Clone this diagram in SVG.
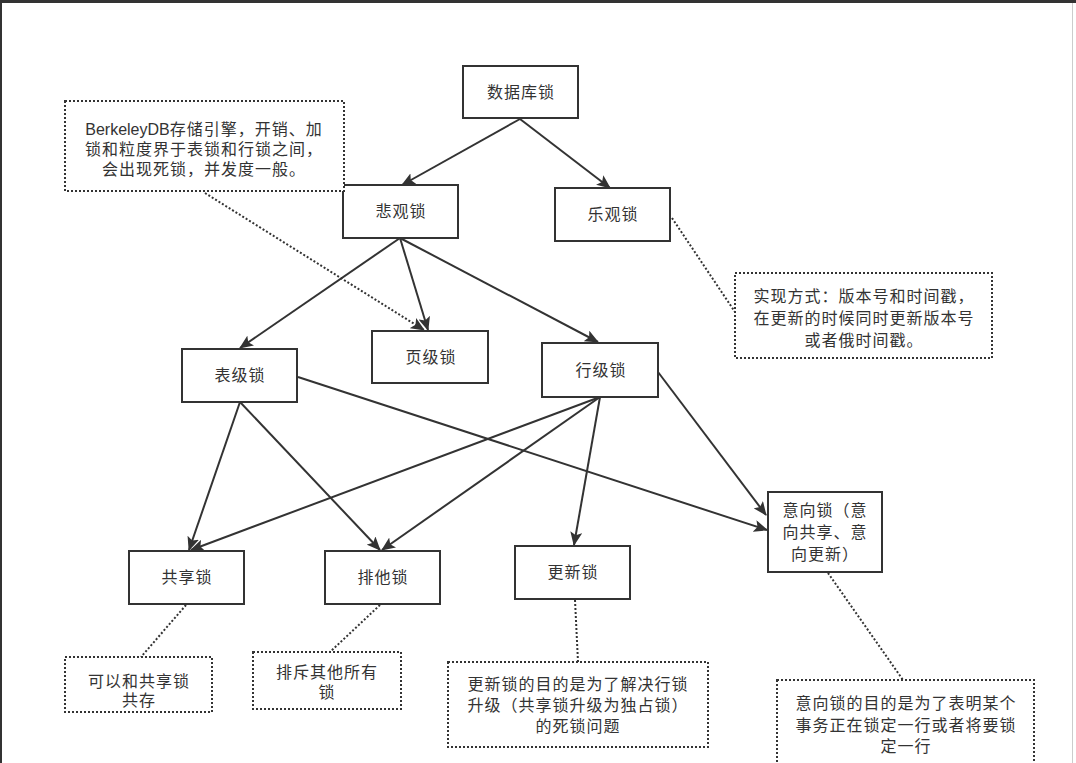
<svg xmlns="http://www.w3.org/2000/svg" width="1076" height="763" viewBox="0 0 1076 763">
<style>
.box{fill:#fff;stroke:#333;stroke-width:2}
.note{fill:#fff;stroke:#333;stroke-width:2;stroke-dasharray:2 2}
.t{font-family:"Liberation Sans","Noto Sans CJK SC",sans-serif;font-size:16px;fill:#333;text-anchor:middle;dominant-baseline:central;letter-spacing:1px}
.c{fill:none;stroke:#333;stroke-width:2}
.d{fill:none;stroke:#333;stroke-width:2;stroke-dasharray:2 2}
</style>
<defs>
<marker id="ah" viewBox="0 0 14 12" refX="13" refY="6" markerWidth="14" markerHeight="12" orient="auto" markerUnits="userSpaceOnUse">
<path d="M0,0 L14,6 L0,12 L3,6 z" fill="#333"/>
</marker>
</defs>
<rect x="0" y="0" width="1076" height="763" fill="#fff"/>
<rect x="0" y="0" width="1076" height="3" fill="#333"/>
<rect x="0" y="0" width="2" height="763" fill="#333"/>
<rect x="1072" y="3" width="1" height="760" fill="#ccc"/>

<g id="connectors">
<line class="c" x1="520" y1="119" x2="402" y2="185" marker-end="url(#ah)"/>
<line class="c" x1="520" y1="119" x2="610" y2="188" marker-end="url(#ah)"/>
<line class="c" x1="400" y1="238" x2="240" y2="348" marker-end="url(#ah)"/>
<line class="c" x1="400" y1="238" x2="428" y2="330" marker-end="url(#ah)"/>
<line class="c" x1="400" y1="238" x2="598" y2="342" marker-end="url(#ah)"/>
<line class="c" x1="240" y1="402" x2="189" y2="550" marker-end="url(#ah)"/>
<line class="c" x1="240" y1="402" x2="380" y2="550" marker-end="url(#ah)"/>
<line class="c" x1="298" y1="377" x2="767" y2="530" marker-end="url(#ah)"/>
<line class="c" x1="600" y1="397" x2="191" y2="550" marker-end="url(#ah)"/>
<line class="c" x1="600" y1="397" x2="382" y2="550" marker-end="url(#ah)"/>
<line class="c" x1="600" y1="397" x2="574" y2="545" marker-end="url(#ah)"/>
<line class="c" x1="658" y1="372" x2="766" y2="515" marker-end="url(#ah)"/>
<line class="d" x1="205" y1="193" x2="424" y2="330" marker-end="url(#ah)"/>
<line class="d" x1="672" y1="218" x2="735" y2="312"/>
<line class="d" x1="186" y1="605" x2="141" y2="657"/>
<line class="d" x1="380" y1="605" x2="330" y2="652"/>
<line class="d" x1="575" y1="600" x2="578" y2="662"/>
<line class="d" x1="828" y1="573" x2="903" y2="680"/>
</g>

<g id="n-db"><rect class="box" x="463" y="66" width="115" height="52"/><text class="t" x="521" y="92">数据库锁</text></g>
<g id="n-pess"><rect class="box" x="343" y="185" width="115" height="53"/><text class="t" x="401" y="211.5">悲观锁</text></g>
<g id="n-opt"><rect class="box" x="555" y="188" width="115" height="53"/><text class="t" x="613" y="214.5">乐观锁</text></g>
<g id="n-table"><rect class="box" x="182" y="349" width="115" height="53"/><text class="t" x="240" y="375.5">表级锁</text></g>
<g id="n-page"><rect class="box" x="372" y="331" width="116" height="52"/><text class="t" x="431" y="357">页级锁</text></g>
<g id="n-row"><rect class="box" x="542" y="343" width="116" height="54"/><text class="t" x="601" y="370">行级锁</text></g>
<g id="n-shared"><rect class="box" x="129" y="551" width="115" height="53"/><text class="t" x="187" y="577.5">共享锁</text></g>
<g id="n-excl"><rect class="box" x="325" y="551" width="115" height="53"/><text class="t" x="383" y="577.5">排他锁</text></g>
<g id="n-update"><rect class="box" x="515" y="546" width="115" height="53"/><text class="t" x="573" y="572.5">更新锁</text></g>
<g id="n-intent"><rect class="box" x="768" y="492" width="114" height="80"/>
<text class="t" x="825" y="510">意向锁（意</text>
<text class="t" x="825" y="532">向共享、意</text>
<text class="t" x="825" y="554">向更新）</text></g>

<g id="note-bdb"><rect class="note" x="65" y="101" width="279" height="90"/>
<text class="t" x="204" y="129"><tspan letter-spacing="0">BerkeleyDB</tspan>存储引擎，开销、加</text>
<text class="t" x="204" y="149">锁和粒度界于表锁和行锁之间，</text>
<text class="t" x="204" y="169">会出现死锁，并发度一般。</text></g>
<g id="note-opt"><rect class="note" x="735" y="273" width="257" height="85"/>
<text class="t" x="864" y="296">实现方式：版本号和时间戳，</text>
<text class="t" x="864" y="318">在更新的时候同时更新版本号</text>
<text class="t" x="864" y="340">或者俄时间戳。</text></g>
<g id="note-shared"><rect class="note" x="65" y="657" width="147" height="55"/>
<text class="t" x="139" y="681">可以和共享锁</text>
<text class="t" x="139" y="700">共存</text></g>
<g id="note-excl"><rect class="note" x="253" y="652" width="148" height="57"/>
<text class="t" x="327" y="672">排斥其他所有</text>
<text class="t" x="327" y="692">锁</text></g>
<g id="note-update"><rect class="note" x="448" y="662" width="260" height="85"/>
<text class="t" x="578" y="684">更新锁的目的是为了解决行锁</text>
<text class="t" x="578" y="705">升级（共享锁升级为独占锁）</text>
<text class="t" x="578" y="726">的死锁问题</text></g>
<g id="note-intent"><rect class="note" x="777" y="680" width="257" height="100"/>
<text class="t" x="906" y="703">意向锁的目的是为了表明某个</text>
<text class="t" x="906" y="725">事务正在锁定一行或者将要锁</text>
<text class="t" x="906" y="746">定一行</text></g>
</svg>
